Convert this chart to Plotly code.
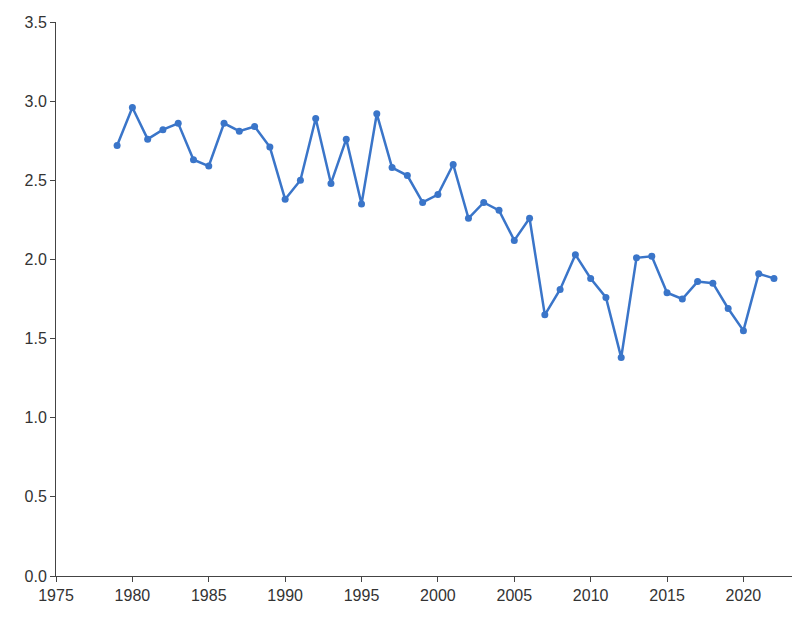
import plotly.graph_objects as go

years = list(range(1979, 2023))
values = [2.72, 2.96, 2.76, 2.82, 2.86, 2.63, 2.59, 2.86, 2.81, 2.84, 2.71, 2.38, 2.50, 2.89, 2.48, 2.76,
          2.35, 2.92, 2.58, 2.53, 2.36, 2.41, 2.60, 2.26, 2.36, 2.31, 2.12, 2.26, 1.65, 1.81, 2.03, 1.88,
          1.76, 1.38, 2.01, 2.02, 1.79, 1.75, 1.86, 1.85, 1.69, 1.55, 1.91, 1.88]

fig = go.Figure(go.Scatter(x=years, y=values, mode="lines+markers", cliponaxis=False,
                           line=dict(color="#3a75c9", width=2.5),
                           marker=dict(color="#3a75c9", size=7)))
axis = dict(showgrid=False, zeroline=False, showline=True, linecolor="#444", linewidth=1,
            ticks="outside", ticklen=5, tickcolor="#444", automargin=False,
            tickfont=dict(family="Liberation Sans, Arial", size=16, color="#333"))
fig.update_layout(width=800, height=635, plot_bgcolor="white", paper_bgcolor="white",
                  margin=dict(l=48, r=5, t=14, b=67), showlegend=False,
                  xaxis=dict(range=[1975, 2023.9], tickvals=list(range(1975, 2021, 5)), **axis),
                  yaxis=dict(range=[0, 3.5], dtick=0.5, tickformat=".1f", **axis))
fig.write_html("out.html")
